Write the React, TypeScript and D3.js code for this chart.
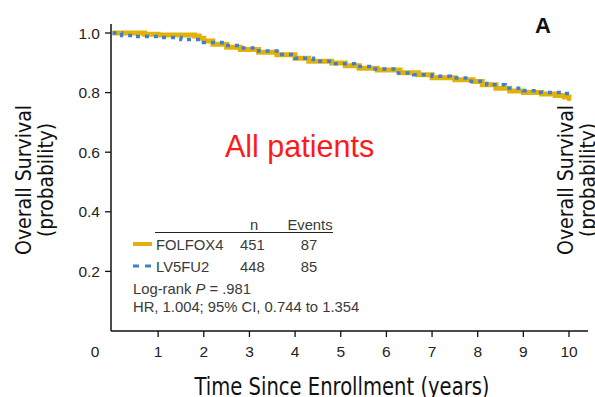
import React from 'react';
import * as d3 from 'd3';

const width = 595;
const height = 397;

// Kaplan-Meier estimates
const folfoxTimes = [0, 0.7, 1.0, 1.8, 1.9, 2.0, 2.2, 2.5, 2.8, 3.2, 3.6, 4.0, 4.3, 4.8, 5.1, 5.4, 5.8, 6.3, 6.7, 7.0, 7.5, 7.9, 8.1, 8.4, 8.7, 9.0, 9.4, 9.7, 9.9, 10.0];
const folfoxSurv = [1.0, 0.996, 0.993, 0.99, 0.982, 0.973, 0.962, 0.952, 0.945, 0.935, 0.927, 0.915, 0.905, 0.899, 0.89, 0.882, 0.876, 0.867, 0.86, 0.85, 0.843, 0.837, 0.826, 0.815, 0.805, 0.8, 0.795, 0.79, 0.785, 0.776];

const lv5fu2Times = [0, 0.2, 0.5, 1.0, 1.5, 2.0, 2.4, 2.8, 3.2, 3.6, 4.0, 4.4, 4.8, 5.3, 5.7, 6.2, 6.6, 7.0, 7.4, 7.8, 8.2, 8.6, 9.0, 9.3, 9.9];
const lv5fu2Surv = [1.0, 0.992, 0.988, 0.985, 0.978, 0.968, 0.958, 0.95, 0.94, 0.928, 0.915, 0.905, 0.897, 0.888, 0.879, 0.866, 0.86, 0.855, 0.849, 0.838, 0.826, 0.815, 0.806, 0.8, 0.797];

const xTicks = [1, 2, 3, 4, 5, 6, 7, 8, 9, 10];
const yTicks = [0.2, 0.4, 0.6, 0.8, 1.0];

const legendRows = [
  { label: 'FOLFOX4', n: 451, events: 87 },
  { label: 'LV5FU2', n: 448, events: 85 },
];

const yellow = '#e3b20a';
const blue = '#3d7fd2';
const sans = 'Arial, "Liberation Sans", Helvetica, sans-serif';
const narrow = '"Liberation Sans Narrow", "DejaVu Sans Condensed", Arial, sans-serif';

export default function App() {
  const x = d3.scaleLinear().domain([0, 10]).range([112.5, 569]);
  const y = d3.scaleLinear().domain([0, 1]).range([331, 33]);

  const line = d3.line<[number, number]>()
    .x(d => x(d[0]))
    .y(d => y(d[1]))
    .curve(d3.curveStepAfter);

  const folfox = folfoxTimes.map((t, i) => [t, folfoxSurv[i]] as [number, number]);
  const lv5 = lv5fu2Times.map((t, i) => [t, lv5fu2Surv[i]] as [number, number]);
  lv5.push([10, lv5fu2Surv[lv5fu2Surv.length - 1]]);

  return (
    <svg width={width} height={height} style={{ position: 'absolute', left: 0, top: 0, background: '#fff' }}>
      {/* axes */}
      <line x1={111} x2={111} y1={24} y2={331} stroke="#111" strokeWidth={1.5} />
      <line x1={111} x2={588} y1={331} y2={331} stroke="#111" strokeWidth={1.5} />

      {yTicks.map(t => (
        <g key={t}>
          <line x1={105} x2={111} y1={y(t)} y2={y(t)} stroke="#111" strokeWidth={1.3} />
          <text x={100} y={y(t) + 5.5} textAnchor="end" fontFamily={sans} fontSize={15.5} fill="#222">
            {t.toFixed(1)}
          </text>
        </g>
      ))}
      {xTicks.map(t => (
        <g key={t}>
          <line x1={x(t)} x2={x(t)} y1={331} y2={337} stroke="#111" strokeWidth={1.3} />
          <text x={x(t)} y={357} textAnchor="middle" fontFamily={sans} fontSize={15.5} fill="#222">
            {t}
          </text>
        </g>
      ))}
      <text x={95} y={357} textAnchor="middle" fontFamily={sans} fontSize={15.5} fill="#222">0</text>

      {/* curves */}
      <path d={line(folfox) || ''} fill="none" stroke={yellow} strokeWidth={5} />
      <line x1={x(10)} x2={x(10)} y1={y(0.79)} y2={y(0.772)} stroke={yellow} strokeWidth={4} />
      <path d={line(lv5) || ''} fill="none" stroke={blue} strokeWidth={3.5} strokeDasharray="4,5" />

      {/* axis titles */}
      <g fontFamily={narrow} fontSize={22} fill="#111">
        <text transform="translate(31,180) rotate(-90)" textAnchor="middle" textLength={150} lengthAdjust="spacingAndGlyphs">Overall Survival</text>
        <text transform="translate(53,180) rotate(-90)" textAnchor="middle" textLength={114} lengthAdjust="spacingAndGlyphs">(probability)</text>
        <text transform="translate(573,180) rotate(-90)" textAnchor="middle" textLength={150} lengthAdjust="spacingAndGlyphs">Overall Survival</text>
        <text transform="translate(595,180) rotate(-90)" textAnchor="middle" textLength={114} lengthAdjust="spacingAndGlyphs">(probability)</text>
        <text x={342} y={395} textAnchor="middle" fontSize={24} textLength={295} lengthAdjust="spacingAndGlyphs">Time Since Enrollment (years)</text>
      </g>

      <text x={535} y={33} fontFamily={sans} fontSize={22} fontWeight="bold" fill="#111">A</text>
      <text x={225} y={157} fontFamily={sans} fontSize={30.5} fill="#ff1a1a">All patients</text>

      {/* legend */}
      <g fontFamily={sans} fontSize={14.8} fill="#3a3a3a">
        <text x={254} y={230} textAnchor="middle">n</text>
        <text x={310} y={230} textAnchor="middle">Events</text>
        <line x1={155} x2={333} y1={232.5} y2={232.5} stroke="#222" strokeWidth={1.2} />
        {legendRows.map((r, i) => (
          <g key={r.label}>
            {i === 0 ? (
              <line x1={133} x2={152} y1={244} y2={244} stroke={yellow} strokeWidth={4} />
            ) : (
              <line x1={133} x2={153} y1={266} y2={266} stroke={blue} strokeWidth={3} strokeDasharray="6,6" />
            )}
            <text x={156} y={250 + i * 21.5}>{r.label}</text>
            <text x={240} y={250 + i * 21.5}>{r.n}</text>
            <text x={309} y={250 + i * 21.5} textAnchor="middle">{r.events}</text>
          </g>
        ))}
        <text x={133} y={294}>Log-rank <tspan fontStyle="italic">P</tspan> = .981</text>
        <text x={133} y={312}>HR, 1.004; 95% CI, 0.744 to 1.354</text>
      </g>
    </svg>
  );
}
